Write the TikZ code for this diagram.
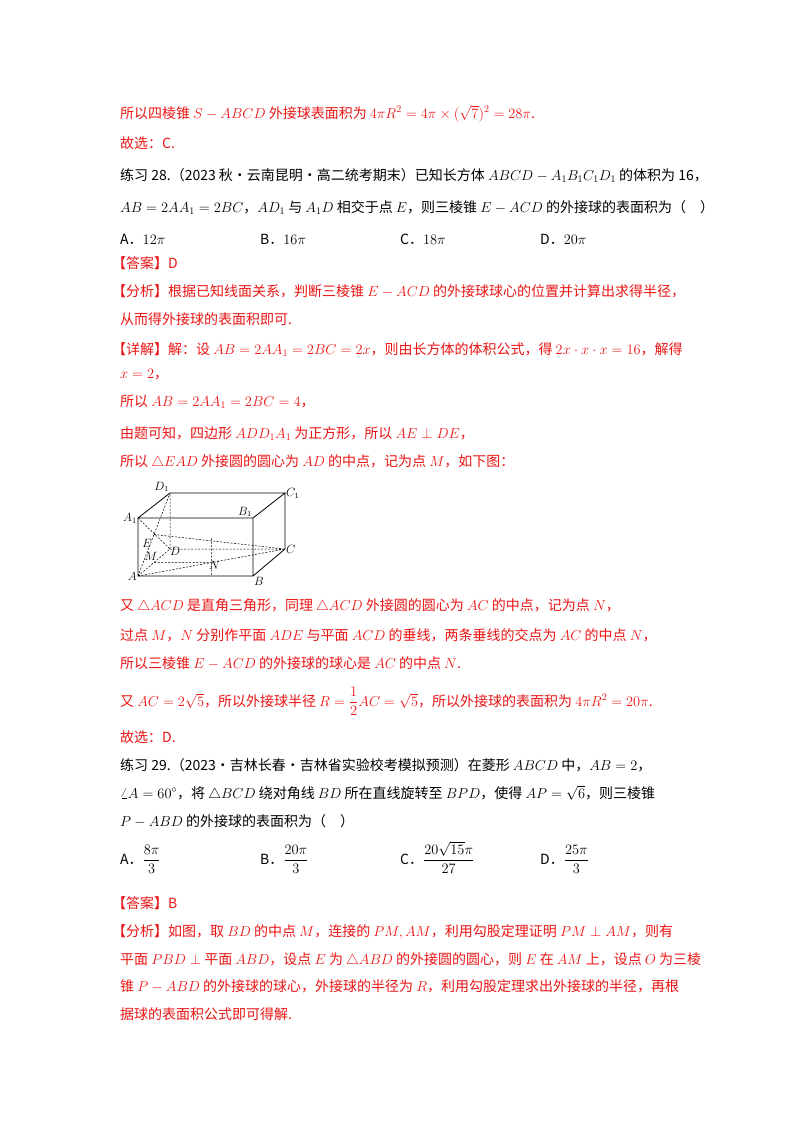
\documentclass[tikz,border=0pt]{standalone}
\usepackage{amsmath}
\usepackage{fontspec}
\setmainfont{Noto Sans CJK SC}
\definecolor{rd}{RGB}{235,20,20}
\begin{document}
\begin{tikzpicture}[x=1pt,y=-1pt,
 ln/.style={anchor=base west,inner sep=0pt,font=\fontsize{14}{16}\selectfont},
 r/.style={ln,text=rd},
 dd/.style={dashed,dash pattern=on 2pt off 1.5pt,line width=0.5pt},
 sl/.style={line width=0.8pt},
 lb/.style={font=\fontsize{12}{12}\selectfont\itshape\rmfamily,inner sep=1pt}]
\useasboundingbox (0,0) rectangle (800,1132);
\node[r] (l1) at (120,118) {所以四棱锥 $S-ABCD$ 外接球表面积为 $4\pi R^2=4\pi\times(\sqrt7)^2=28\pi$.};
\node[r] (l2) at (120,148) {故选：C.};
\node[ln] (l3) at (120,180) {练习 28.（2023 秋·云南昆明·高二统考期末）已知长方体 $ABCD-A_1B_1C_1D_1$ 的体积为 16，};
\node[ln] (l4) at (120,212) {$AB=2AA_1=2BC$，$AD_1$ 与 $A_1D$ 相交于点 $E$，则三棱锥 $E-ACD$ 的外接球的表面积为（\quad）};
\node[ln] (o1) at (120,244) {A．$12\pi$};
\node[ln] (o2) at (260,244) {B．$16\pi$};
\node[ln] (o3) at (400,244) {C．$18\pi$};
\node[ln] (o4) at (540,244) {D．$20\pi$};
\node[r] (l5) at (112,268) {【答案】D};
\node[r] (l6) at (112,296) {【分析】根据已知线面关系，判断三棱锥 $E-ACD$ 的外接球球心的位置并计算出求得半径，};
\node[r] (l7) at (120,324) {从而得外接球的表面积即可.};
\node[r] (l8) at (112,354) {【详解】解：设 $AB=2AA_1=2BC=2x$，则由长方体的体积公式，得 $2x\cdot x\cdot x=16$，解得};
\node[r] (l9) at (120,378) {$x=2$，};
\node[r] (l10) at (120,406) {所以 $AB=2AA_1=2BC=4$，};
\node[r] (l11) at (120,438) {由题可知，四边形 $ADD_1A_1$ 为正方形，所以 $AE\perp DE$，};
\node[r] (l12) at (120,466) {所以 $\triangle EAD$ 外接圆的圆心为 $AD$ 的中点，记为点 $M$，如下图：};
% figure
\coordinate (A) at (138,576); \coordinate (B) at (253,576);
\coordinate (B1) at (253,518); \coordinate (A1) at (138,518);
\coordinate (C) at (285,549); \coordinate (D) at (170,549);
\coordinate (C1) at (285,493); \coordinate (D1) at (170,493);
\coordinate (E) at (154,534.5); \coordinate (M) at (154,562.5);
\coordinate (N) at (211.5,562.5); \coordinate (T) at (211.5,538);
\coordinate (Nb) at (211.5,576);
\draw[sl] (A)--(B)--(B1)--(A1)--cycle (A1)--(D1)--(C1)--(B1) (C1)--(C)--(B);
\draw[dd] (A)--(D)--(C) (D)--(D1) (A)--(D1) (A1)--(D) (A)--(C) (E)--(C) (T)--(Nb) (M)--(N);
\node[lb,left] (tA) at (A) {$A$}; \node[lb,below right] (tB) at (B) {$B$};
\node[lb,right] (tC) at (C) {$C$}; \node[lb,above left] (tB1) at (B1) {$B_1$};
\node[lb,left] (tA1) at (A1) {$A_1$}; \node[lb,above left] (tD1) at (D1) {$D_1$};
\node[lb,right] (tC1) at (C1) {$C_1$}; \node[lb,below right] (tD) at (169,546) {$D$};
\node[lb] (tE) at (147,543) {$E$}; \node[lb] (tM) at (151,556) {$M$};
\node[lb,below right] (tN) at (208,560) {$N$};
% text
\node[r] (l13) at (120,610) {又 $\triangle ACD$ 是直角三角形，同理 $\triangle ACD$ 外接圆的圆心为 $AC$ 的中点，记为点 $N$，};
\node[r] (l14) at (120,640) {过点 $M$，$N$ 分别作平面 $ADE$ 与平面 $ACD$ 的垂线，两条垂线的交点为 $AC$ 的中点 $N$，};
\node[r] (l15) at (120,668) {所以三棱锥 $E-ACD$ 的外接球的球心是 $AC$ 的中点 $N$.};
\node[r] (l16) at (120,706) {又 $AC=2\sqrt5$，所以外接球半径 $R=\dfrac12AC=\sqrt5$，所以外接球的表面积为 $4\pi R^2=20\pi$.};
\node[r] (l17) at (120,742) {故选：D.};
\node[ln] (l18) at (120,770) {练习 29.（2023·吉林长春·吉林省实验校考模拟预测）在菱形 $ABCD$ 中，$AB=2$，};
\node[ln] (l19) at (120,798) {$\angle A=60^\circ$，将 $\triangle BCD$ 绕对角线 $BD$ 所在直线旋转至 $BPD$，使得 $AP=\sqrt6$，则三棱锥};
\node[ln] (l20) at (120,826) {$P-ABD$ 的外接球的表面积为（\quad）};
\node[ln] (p1) at (120,864) {A．$\dfrac{8\pi}{3}$};
\node[ln] (p2) at (260,864) {B．$\dfrac{20\pi}{3}$};
\node[ln] (p3) at (400,864) {C．$\dfrac{20\sqrt{15}\pi}{27}$};
\node[ln] (p4) at (540,864) {D．$\dfrac{25\pi}{3}$};
\node[r] (l21) at (112,908) {【答案】B};
\node[r] (l22) at (112,936) {【分析】如图，取 $BD$ 的中点 $M$，连接的 $PM,AM$，利用勾股定理证明 $PM\perp AM$，则有};
\node[r] (l23) at (120,964) {平面 $PBD\perp$ 平面 $ABD$，设点 $E$ 为 $\triangle ABD$ 的外接圆的圆心，则 $E$ 在 $AM$ 上，设点 $O$ 为三棱};
\node[r] (l24) at (120,991) {锥 $P-ABD$ 的外接球的球心，外接球的半径为 $R$，利用勾股定理求出外接球的半径，再根};
\node[r] (l25) at (120,1019) {据球的表面积公式即可得解.};
\end{tikzpicture}
\end{document}
